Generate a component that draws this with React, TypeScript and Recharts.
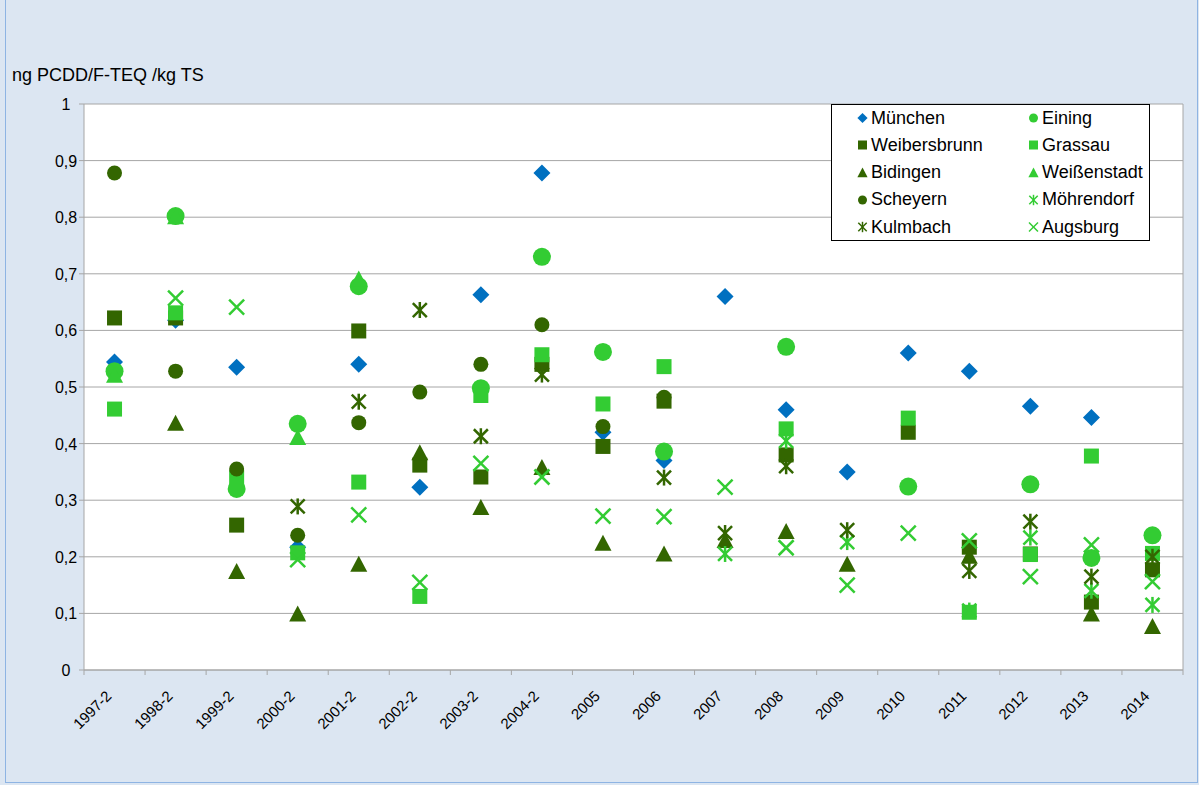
import React from "react";
import { ScatterChart, Scatter, XAxis, YAxis, CartesianGrid, ReferenceLine } from "recharts";

const YEARS = [
  "1997-2", "1998-2", "1999-2", "2000-2", "2001-2", "2002-2", "2003-2", "2004-2", "2005",
  "2006", "2007", "2008", "2009", "2010", "2011", "2012", "2013", "2014",
];
const Y_TICKS = [0, 0.1, 0.2, 0.3, 0.4, 0.5, 0.6, 0.7, 0.8, 0.9, 1];

const MUENCHEN = [0.544, 0.618, 0.535, 0.217, 0.54, 0.323, 0.663, 0.878, 0.42, 0.37, 0.66, 0.46, 0.35, 0.56, 0.528, 0.466, 0.446, null];
const EINING = [0.528, 0.802, 0.32, 0.435, 0.678, null, 0.498, 0.73, 0.562, 0.386, null, 0.571, null, 0.324, null, 0.328, 0.198, 0.238];
const WEIBERSBRUNN = [0.622, 0.622, 0.256, null, 0.599, 0.362, 0.341, 0.54, 0.395, 0.475, null, 0.38, null, 0.42, 0.217, 0.205, 0.12, 0.177];
const GRASSAU = [0.461, 0.631, 0.34, 0.207, 0.332, 0.13, 0.485, 0.557, 0.47, 0.536, null, 0.426, null, 0.445, 0.102, 0.204, 0.378, 0.206];
const BIDINGEN = [null, 0.435, 0.173, 0.098, 0.186, 0.383, 0.286, 0.357, 0.223, 0.204, 0.228, 0.244, 0.186, null, 0.2, null, 0.098, 0.076];
const WEISSENSTADT = [0.52, 0.8, null, 0.41, 0.69, null, null, null, null, null, null, null, null, null, null, null, null, null];
const SCHEYERN = [0.878, 0.528, 0.355, 0.238, 0.437, 0.491, 0.54, 0.61, 0.43, 0.482, null, null, null, null, null, null, null, null];
const MOEHRENDORF = [null, null, null, null, null, null, null, null, null, null, 0.205, 0.405, 0.226, null, 0.105, 0.234, 0.14, 0.115];
const KULMBACH = [null, null, null, 0.289, 0.474, 0.636, 0.413, 0.522, null, 0.34, 0.242, 0.36, 0.247, null, 0.175, 0.262, 0.165, 0.2];
const AUGSBURG = [null, 0.657, 0.641, 0.195, 0.274, 0.155, 0.365, 0.341, 0.272, 0.271, 0.323, 0.216, 0.15, 0.242, 0.228, 0.165, 0.221, 0.156];

const BLUE = "#0070c0";
const LIGHT = "#33cc33";
const DARK = "#336600";
const GRID = "#a6a6a6";
const FONT = "'Liberation Sans', Arial, sans-serif";

type Kind = "diamond" | "circle" | "bigcircle" | "square" | "triangle" | "star" | "cross";

const SERIES: { name: string; values: (number | null)[]; color: string; kind: Kind }[] = [
  { name: "München", values: MUENCHEN, color: BLUE, kind: "diamond" },
  { name: "Eining", values: EINING, color: LIGHT, kind: "bigcircle" },
  { name: "Weibersbrunn", values: WEIBERSBRUNN, color: DARK, kind: "square" },
  { name: "Grassau", values: GRASSAU, color: LIGHT, kind: "square" },
  { name: "Bidingen", values: BIDINGEN, color: DARK, kind: "triangle" },
  { name: "Weißenstadt", values: WEISSENSTADT, color: LIGHT, kind: "triangle" },
  { name: "Scheyern", values: SCHEYERN, color: DARK, kind: "circle" },
  { name: "Möhrendorf", values: MOEHRENDORF, color: LIGHT, kind: "star" },
  { name: "Kulmbach", values: KULMBACH, color: DARK, kind: "star" },
  { name: "Augsburg", values: AUGSBURG, color: LIGHT, kind: "cross" },
];

const W = 1199;
const H = 785;
const PLOT_LEFT = 84;
const PLOT_RIGHT = 1183;
const PLOT_BOTTOM = 670;
const HALF_STEP = (PLOT_RIGHT - PLOT_LEFT) / YEARS.length / 2;

function Marker({ kind, cx, cy, color, s = 1 }: { kind: Kind; cx: number; cy: number; color: string; s?: number }) {
  switch (kind) {
    case "diamond": {
      const r = 8.5 * s;
      return <polygon points={`${cx},${cy - r} ${cx + r},${cy} ${cx},${cy + r} ${cx - r},${cy}`} fill={color} />;
    }
    case "bigcircle":
      return <circle cx={cx} cy={cy} r={9 * s} fill={color} />;
    case "circle":
      return <circle cx={cx} cy={cy} r={7.5 * s} fill={color} />;
    case "square": {
      const h = 7.5 * s;
      return <rect x={cx - h} y={cy - h} width={h * 2} height={h * 2} fill={color} />;
    }
    case "triangle": {
      const w = 8.5 * s;
      return <polygon points={`${cx},${cy - 9 * s} ${cx + w},${cy + 7 * s} ${cx - w},${cy + 7 * s}`} fill={color} />;
    }
    case "star": {
      const r = 7 * s;
      return (
        <g stroke={color} strokeWidth={2.5 * s}>
          <line x1={cx - r} y1={cy - r} x2={cx + r} y2={cy + r} />
          <line x1={cx - r} y1={cy + r} x2={cx + r} y2={cy - r} />
          <line x1={cx} y1={cy - r - 1} x2={cx} y2={cy + r + 1} />
        </g>
      );
    }
    case "cross": {
      const r = 7.5 * s;
      return (
        <g stroke={color} strokeWidth={2.5 * s}>
          <line x1={cx - r} y1={cy - r} x2={cx + r} y2={cy + r} />
          <line x1={cx - r} y1={cy + r} x2={cx + r} y2={cy - r} />
        </g>
      );
    }
  }
  return null;
}

function YearTick({ x, payload }: { x?: number; y?: number; payload?: { value: number } }) {
  const i = payload?.value ?? 0;
  const px = x ?? 0;
  const ax = px - 2;
  const ty = PLOT_BOTTOM + 27;
  return (
    <g>
      <line x1={px - HALF_STEP} x2={px - HALF_STEP} y1={PLOT_BOTTOM} y2={PLOT_BOTTOM + 5} stroke={GRID} />
      {i === YEARS.length - 1 && (
        <line x1={px + HALF_STEP} x2={px + HALF_STEP} y1={PLOT_BOTTOM} y2={PLOT_BOTTOM + 5} stroke={GRID} />
      )}
      <text
        x={ax}
        y={ty}
        transform={`rotate(-45, ${ax}, ${ty})`}
        textAnchor="end"
        fontSize={15}
        fontFamily={FONT}
        fill="#000"
      >
        {YEARS[i]}
      </text>
    </g>
  );
}

function ValueTick({ y, payload }: { x?: number; y?: number; payload?: { value: number } }) {
  const v = payload?.value ?? 0;
  const label = v === 0 || v === 1 ? String(v) : v.toFixed(1).replace(".", ",");
  return (
    <text x={66} y={(y ?? 0) + 6} textAnchor="middle" fontSize={16} fontFamily={FONT} fill="#000">
      {label}
    </text>
  );
}

function LegendBox() {
  return (
    <div
      style={{
        position: "absolute",
        left: 831,
        top: 104,
        width: 317,
        height: 135,
        background: "#fff",
        border: "1px solid #000",
        fontFamily: FONT,
        fontSize: 18,
      }}
    >
      {SERIES.map((s, i) => {
        const col = i % 2;
        const row = Math.floor(i / 2);
        return (
          <div
            key={s.name}
            style={{
              position: "absolute",
              left: col === 0 ? 25 : 196,
              top: 1 + row * 27.3,
              height: 24,
              display: "flex",
              alignItems: "center",
              whiteSpace: "nowrap",
            }}
          >
            <svg width={11} height={12} style={{ marginRight: 3 }}>
              <Marker kind={s.kind} cx={5.5} cy={6} color={s.color} s={s.kind === "bigcircle" ? 0.5 : 0.6} />
            </svg>
            <span>{s.name}</span>
          </div>
        );
      })}
    </div>
  );
}

export default function App() {
  return (
    <div style={{ position: "relative", width: W, height: H, background: "#dce6f2", overflow: "hidden" }}>
      <style>{"body{margin:0}"}</style>
      <div
        style={{
          position: "absolute",
          left: 5,
          top: -1,
          width: 1191,
          height: 782,
          border: "1px solid #8eb4e3",
          pointerEvents: "none",
        }}
      />
      <div style={{ position: "absolute", left: 12, top: 65, fontFamily: FONT, fontSize: 18, color: "#000" }}>
        ng PCDD/F-TEQ /kg TS
      </div>
      <ScatterChart width={W} height={H} margin={{ top: 104, right: 16, left: 24, bottom: 55 }}>
        <CartesianGrid vertical={false} stroke={GRID} fill="#fff" />
        <XAxis
          type="number"
          dataKey="x"
          domain={[-0.5, YEARS.length - 0.5]}
          ticks={YEARS.map((_, i) => i)}
          interval={0}
          tick={<YearTick />}
          tickLine={false}
          axisLine={{ stroke: GRID }}
          height={60}
        />
        <YAxis
          type="number"
          dataKey="y"
          domain={[0, 1]}
          ticks={Y_TICKS}
          interval={0}
          tick={<ValueTick />}
          tickLine={{ stroke: GRID }}
          axisLine={{ stroke: GRID }}
          tickSize={5}
          width={60}
        />
        <ReferenceLine x={YEARS.length - 0.5} stroke={GRID} />
        {SERIES.map((s) => (
          <Scatter
            key={s.name}
            name={s.name}
            data={s.values
              .map((v, i) => ({ x: i, y: v }))
              .filter((d) => d.y !== null)}
            isAnimationActive={false}
            shape={(p: { cx?: number; cy?: number }) => (
              <Marker kind={s.kind} cx={p.cx ?? 0} cy={p.cy ?? 0} color={s.color} />
            )}
          />
        ))}
      </ScatterChart>
      <LegendBox />
    </div>
  );
}
